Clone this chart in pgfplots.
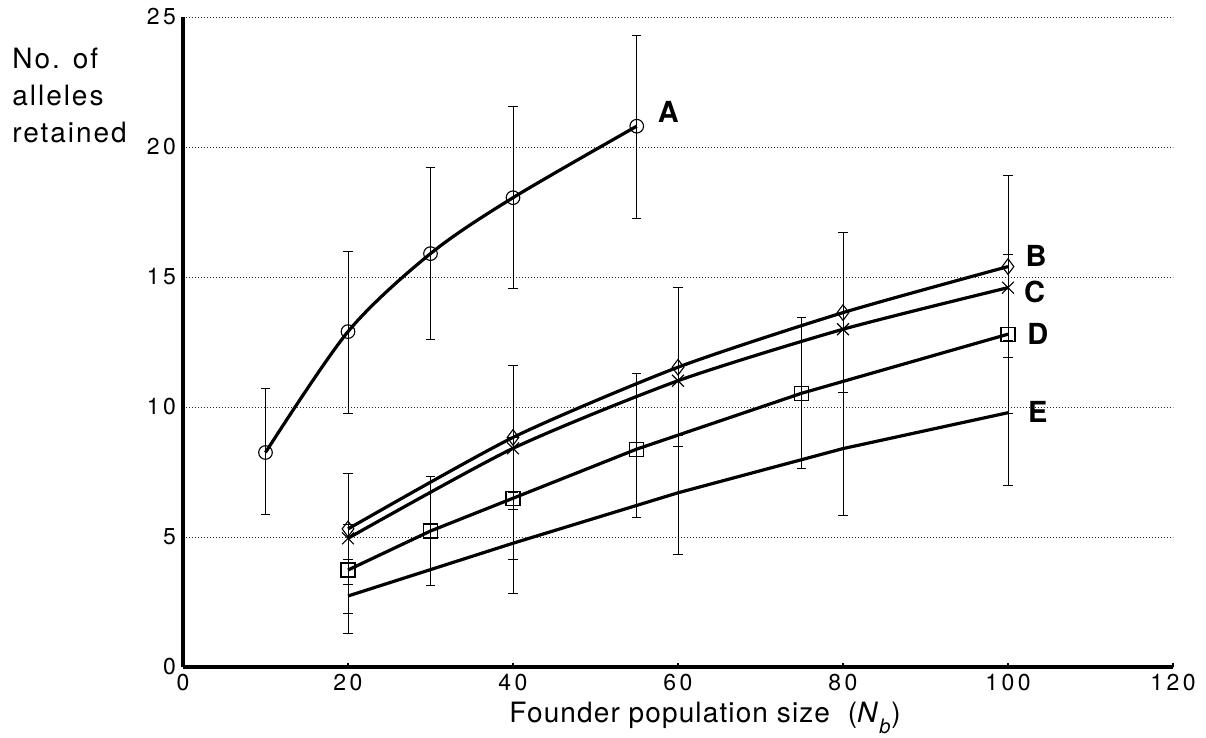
\documentclass[border=0pt]{standalone}
\usepackage{fontspec}
\setmainfont{TeX Gyre Heros}[LetterSpace=10]
\newfontfamily\tagfont{TeX Gyre Heros}
\newfontfamily\tickfont{TeX Gyre Heros}[LetterSpace=15]
\newfontfamily\ylabfont{TeX Gyre Heros}[LetterSpace=7]
\newfontfamily\xlabfont{TeX Gyre Heros}[LetterSpace=4]
\usepackage{pgfplots}
\pgfplotsset{compat=1.18}

\pgfplotsset{
  ser/.style={black, line width=1.6pt, mark options={solid, line width=0.55pt, fill=none},
    error bars/y dir=both, error bars/y explicit,
    error bars/error bar style={line width=0.45pt},
    error bars/error mark options={rotate=90, mark size=2.3pt, line width=0.45pt}},
}
\tikzset{tag/.style={anchor=west, inner sep=0pt, font=\tagfont\bfseries\fontsize{14.5}{14.5}\selectfont}}

\begin{document}
\begin{tikzpicture}
\begin{axis}[
  at={(0,0)}, anchor=south west,
  scale only axis, width=495pt, height=325pt,
  xmin=0, xmax=120, ymin=0, ymax=25,
  xtick={0,20,...,120}, ytick={0,5,...,25},
  axis x line*=bottom, axis y line*=left,
  axis line style={line width=2pt, -},
  ymajorgrids, grid style={black!85, line width=0.45pt, dash pattern=on 0.7pt off 0.8pt},
  tick align=inside, major tick length=2pt,
  xtick style={line width=1pt, black}, ytick style={draw=none},
  tick label style={font=\tickfont\fontsize{11.5}{12}\selectfont},
  /pgf/number format/assume math mode=true,
  clip=false,
]
% A
\addplot[ser, smooth, mark=o, mark size=3.4pt] table[x=x, y=y, y error plus=ep, y error minus=em] {
x  y     ep   em
10 8.25  2.45 2.40
20 12.9  3.10 3.15
30 15.9  3.30 3.30
40 18.05 3.50 3.50
55 20.8  3.50 3.55
};
% B
\addplot[ser, smooth, tension=0.4, mark=diamond, mark size=3.9pt] table[x=x, y=y, y error plus=ep, y error minus=em] {
x   y     ep   em
20  5.31  2.12 2.12
40  8.83  2.76 2.76
60  11.53 3.06 3.06
80  13.63 3.07 3.07
100 15.40 3.50 3.50
};
% C
\addplot[black, line width=1.6pt, smooth, tension=0.4, mark=x, mark size=4.2pt, mark options={solid, line width=0.55pt}] table[x=x, y=y] {
x   y
20  4.95
40  8.41
60  11.01
80  12.99
100 14.59
};
% D
\addplot[ser, mark=square, mark size=3.5pt] table[x=x, y=y, y error plus=ep, y error minus=em] {
x   y     ep   em
20  3.73  1.77 1.67
30  5.23  2.09 2.08
40  6.49  2.34 2.34
55  8.38  2.92 2.63
75  10.53 2.92 2.89
100 12.80 3.05 3.05
};
% E
\addplot[ser, mark=none] table[x=x, y=y, y error plus=ep, y error minus=em] {
x   y     ep   em
20  2.73  1.42 1.43
40  4.76  1.95 1.95
60  6.70  2.21 2.37
80  8.40  2.60 2.59
100 9.78  2.79 2.79
};
\node[tag] at (axis cs:57.5,21.33) {A};
\node[tag] at (axis cs:102.1,15.81) {B};
\node[tag] at (axis cs:101.9,14.43) {C};
\node[tag] at (axis cs:102.3,12.8) {D};
\node[tag] at (axis cs:102.4,9.82) {E};
\end{axis}
\node[anchor=north west, align=left, inner sep=0pt, font=\ylabfont\fontsize{14}{18.5}\selectfont]
  at (-85.5pt,309.5pt) {No. of\\alleles\\retained};
\node[anchor=base, inner sep=0pt, font=\xlabfont\fontsize{14}{15}\selectfont]
  at (261pt,-28pt) {Founder population size\ \ (\textit{N}\raisebox{-0.36em}{\fontsize{10}{10}\selectfont\textit{b}})};
\pgfresetboundingbox
\path[use as bounding box] (-91.5pt,-35.5pt) rectangle (511.5pt,333.5pt);
\end{tikzpicture}
\end{document}
